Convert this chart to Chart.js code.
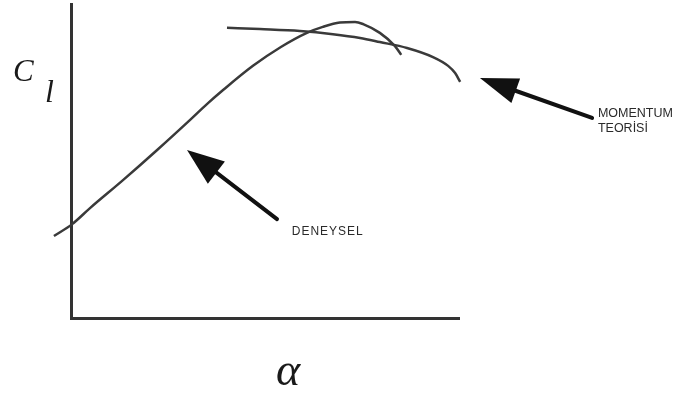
<!DOCTYPE html>
<html>
<head>
<meta charset="utf-8">
<script src="https://cdn.jsdelivr.net/npm/chart.js@4.4.0/dist/chart.umd.min.js"></script>
<style>
  body { margin: 0; background: #fff; }
</style>
</head>
<body>
<canvas id="cl" width="674" height="394"></canvas>
<script>
// angle of attack (schematic units, 0..100 along the axis)
const alphaDeneysel = [-4.4, 0.3, 4.9, 13.4, 22.2, 30.7, 35.1, 39.2, 46.9, 54.1, 60.8, 64.9, 69.3, 73.2, 75.3, 79.6, 83.5, 85.1];
const clDeneysel    = [26.1, 29.9, 35.0, 43.9, 53.5, 63.1, 68.2, 72.6, 80.3, 86.3, 90.8, 92.7, 94.1, 94.3, 93.6, 90.8, 86.6, 83.8];

const alphaMomentum = [40.2, 48.7, 59.0, 67.5, 74.5, 79.6, 86.6, 93.3, 97.2, 99.0, 100.3];
const clMomentum    = [92.4, 92.0, 91.4, 90.4, 89.2, 87.9, 86.0, 83.1, 80.3, 78.0, 75.2];

const labelDeneysel = 'DENEYSEL';
const labelMomentum = ['MOMENTUM', 'TEORİSİ'];

const toPoints = (xs, ys) => xs.map((x, i) => ({ x: x, y: ys[i] }));

// arrows pointing at the curves (data units)
const arrows = [
    { tip: [105.4, 76.4], tail: [134.3, 63.7], head: 38, half: 13 },
    { tip: [29.9, 53.5], tail: [53.1, 31.5], head: 37, half: 14 }
];

const notes = {
    id: 'notes',
    afterDatasetsDraw(chart) {
        const { ctx, chartArea, scales: { x, y } } = chart;
        ctx.save();

        // arrows
        ctx.fillStyle = '#111';
        ctx.strokeStyle = '#111';
        ctx.lineWidth = 4;
        ctx.lineCap = 'round';
        arrows.forEach(a => {
            const tx = x.getPixelForValue(a.tip[0]), ty = y.getPixelForValue(a.tip[1]);
            const ex = x.getPixelForValue(a.tail[0]), ey = y.getPixelForValue(a.tail[1]);
            const ang = Math.atan2(ey - ty, ex - tx);
            const bx = tx + Math.cos(ang) * a.head, by = ty + Math.sin(ang) * a.head;
            ctx.beginPath();
            ctx.moveTo(bx - Math.cos(ang) * 4, by - Math.sin(ang) * 4);
            ctx.lineTo(ex, ey);
            ctx.stroke();
            ctx.beginPath();
            ctx.moveTo(tx, ty);
            ctx.lineTo(bx - Math.sin(ang) * a.half, by + Math.cos(ang) * a.half);
            ctx.lineTo(bx + Math.sin(ang) * a.half, by - Math.cos(ang) * a.half);
            ctx.closePath();
            ctx.fill();
        });

        // small labels
        ctx.fillStyle = '#2a2a2a';
        ctx.textBaseline = 'alphabetic';
        ctx.font = '12px "Liberation Sans", Arial, sans-serif';
        ctx.letterSpacing = '1px';
        ctx.fillText(labelDeneysel, x.getPixelForValue(56.9), y.getPixelForValue(26.4));
        ctx.letterSpacing = '0px';
        ctx.font = '12.5px "Liberation Sans", Arial, sans-serif';
        ctx.fillText(labelMomentum[0], x.getPixelForValue(135.8), y.getPixelForValue(64.0));
        ctx.fillText(labelMomentum[1], x.getPixelForValue(135.8), y.getPixelForValue(59.2));

        // axis symbols
        ctx.fillStyle = '#1a1a1a';
        ctx.font = 'italic 31px "Liberation Serif", "DejaVu Serif", serif';
        ctx.fillText('C', chartArea.left - 58, 81);
        ctx.font = 'italic 32px "Liberation Serif", "DejaVu Serif", serif';
        ctx.fillText('l', chartArea.left - 26, 102);
        ctx.font = 'italic 46px "Liberation Serif", "DejaVu Serif", serif';
        ctx.fillText('α', 276, 385);

        ctx.restore();
    }
};

const lineStyle = {
    borderColor: '#3a3a3a',
    borderWidth: 2.5,
    pointRadius: 0,
    fill: false,
    cubicInterpolationMode: 'monotone',
    clip: false
};

new Chart(document.getElementById('cl').getContext('2d'), {
    type: 'line',
    data: {
        datasets: [
            Object.assign({ label: 'Deneysel', data: toPoints(alphaDeneysel, clDeneysel) }, lineStyle),
            Object.assign({ label: 'Momentum teorisi', data: toPoints(alphaMomentum, clMomentum) }, lineStyle)
        ]
    },
    options: {
        responsive: false,
        animation: false,
        events: [],
        layout: {
            padding: { left: 71, right: 215, top: 4, bottom: 76 }
        },
        plugins: {
            legend: { display: false },
            tooltip: { enabled: false }
        },
        scales: {
            x: {
                type: 'linear',
                min: 0,
                max: 100,
                grid: { display: false, drawTicks: false },
                ticks: { display: false },
                border: { display: true, color: '#333', width: 3 }
            },
            y: {
                min: 0,
                max: 100,
                grid: { display: false, drawTicks: false },
                ticks: { display: false },
                border: { display: true, color: '#333', width: 3 }
            }
        }
    },
    plugins: [notes]
});
</script>
</body>
</html>
